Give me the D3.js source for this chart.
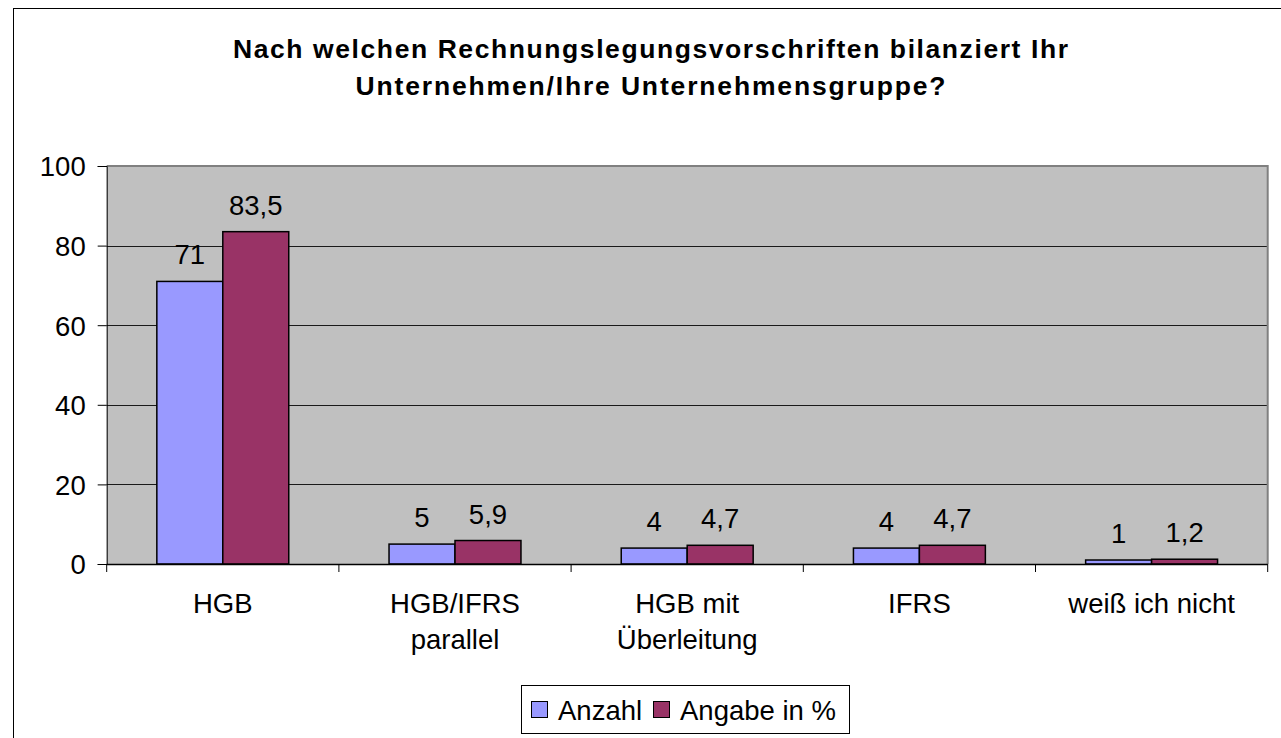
<!DOCTYPE html>
<html lang="de">
<head>
  <meta charset="UTF-8">
  <title>Rechnungslegungsvorschriften</title>
  <style>
    body { margin: 0; background: #fff; }
    text { font-family: "Liberation Sans", Arial, sans-serif; fill: #000; }
  </style>
</head>
<body>
  <svg id="chart" width="1281" height="738"></svg>
<script src="https://cdn.jsdelivr.net/npm/d3@7"></script>
<script>
  // data
  let categories = [["HGB"], ["HGB/IFRS", "parallel"], ["HGB mit", "Überleitung"], ["IFRS"], ["weiß ich nicht"]]
  let seriesNames = ["Anzahl", "Angabe in %"]
  let anzahl = [71, 5, 4, 4, 1]
  let angabe = [83.5, 5.9, 4.7, 4.7, 1.2]
  let yTicks = [0, 20, 40, 60, 80, 100]
  let colors = ["#9999FF", "#993366"]

  let svg = d3.select("#chart")
  let plotLeft = 106.7, plotRight = 1267.7, plotTop = 166, plotBottom = 564
  let fs = 27.5

  // outer chart frame
  svg.append("rect")
     .attr("x", 13.5).attr("y", 8.5)
     .attr("width", 1400).attr("height", 900)
     .attr("fill", "none").attr("stroke", "#000")

  // title
  let title = ["Nach welchen Rechnungslegungsvorschriften bilanziert Ihr", "Unternehmen/Ihre Unternehmensgruppe?"]
  let titleWidths = [835, 590]
  svg.append("g").selectAll("text")
     .data(title)
     .enter()
     .append("text")
     .attr("x", 650.5)
     .attr("y", (d, i) => 58 + i * 37)
     .attr("text-anchor", "middle")
     .attr("font-weight", "bold")
     .attr("font-size", 26.5)
     .attr("textLength", (d, i) => titleWidths[i])
     .attr("lengthAdjust", "spacing")
     .text(d => d)

  let idx = categories.map((d, i) => i)
  let x = d3.scaleBand().domain(idx).range([plotLeft, plotRight]).paddingInner(0).paddingOuter(0)
  let xSub = d3.scaleBand().domain([0, 1]).range([0, x.bandwidth()]).paddingInner(0).paddingOuter(0.76)
  let y = d3.scaleLinear().domain([0, 100]).range([plotBottom, plotTop])

  // plot background
  svg.append("rect")
     .attr("x", plotLeft).attr("y", plotTop)
     .attr("width", plotRight - plotLeft).attr("height", plotBottom - plotTop)
     .attr("fill", "#C0C0C0")

  // gridlines
  svg.append("g").selectAll("line")
     .data(yTicks.filter(t => t > 0 && t < 100))
     .enter()
     .append("line")
     .attr("x1", plotLeft).attr("x2", plotRight)
     .attr("y1", d => Math.round(y(d)) + 0.5).attr("y2", d => Math.round(y(d)) + 0.5)
     .attr("stroke", "#1a1a1a")

  // plot border top/right
  svg.append("path")
     .attr("d", `M${plotLeft},${plotTop} H${plotRight} V${plotBottom}`)
     .attr("fill", "none").attr("stroke", "#808080").attr("stroke-width", 2)

  // bars
  let series = [anzahl, angabe]
  series.forEach((vals, s) => {
    svg.append("g").selectAll("rect")
       .data(vals)
       .enter()
       .append("rect")
       .attr("x", (d, i) => x(i) + xSub(s))
       .attr("y", d => y(d))
       .attr("width", xSub.bandwidth())
       .attr("height", d => y(0) - y(d))
       .attr("fill", colors[s])
       .attr("stroke", "#000")
       .attr("stroke-width", 1.5)

    svg.append("g").selectAll("text")
       .data(vals)
       .enter()
       .append("text")
       .attr("x", (d, i) => x(i) + xSub(s) + xSub.bandwidth() / 2)
       .attr("y", d => y(d) - 17)
       .attr("text-anchor", "middle")
       .attr("font-size", fs)
       .text(d => String(d).replace(".", ","))
  })

  // y axis
  let yAxis = svg.append("g")
     .attr("transform", `translate(${plotLeft},0)`)
     .call(d3.axisLeft(y).tickValues(yTicks).tickSize(9).tickPadding(12))
  yAxis.select(".domain").attr("stroke", "#000")
  yAxis.selectAll(".tick text").attr("font-size", fs).attr("font-family", "Liberation Sans, Arial, sans-serif").attr("dy", "0.36em")

  // x axis with ticks at category boundaries
  svg.append("line")
     .attr("x1", plotLeft).attr("x2", plotRight)
     .attr("y1", plotBottom + 0.5).attr("y2", plotBottom + 0.5)
     .attr("stroke", "#000").attr("stroke-width", 1.5)
  let bounds = idx.map(i => x(i)).concat([plotRight])
  svg.append("g").selectAll("line")
     .data(bounds)
     .enter()
     .append("line")
     .attr("x1", d => d).attr("x2", d => d)
     .attr("y1", plotBottom).attr("y2", plotBottom + 8)
     .attr("stroke", "#000")

  let catLabels = svg.append("g").selectAll("text")
     .data(categories)
     .enter()
     .append("text")
     .attr("x", (d, i) => x(i) + x.bandwidth() / 2)
     .attr("y", 613)
     .attr("text-anchor", "middle")
     .attr("font-size", fs)
  catLabels.selectAll("tspan")
     .data(d => d)
     .enter()
     .append("tspan")
     .attr("x", function() { return this.parentNode.getAttribute("x") })
     .attr("dy", (d, i) => i === 0 ? 0 : 36)
     .text(d => d)

  // legend
  let legend = svg.append("g")
  legend.append("rect")
     .attr("x", 521.5).attr("y", 685.5)
     .attr("width", 328).attr("height", 48)
     .attr("fill", "#fff").attr("stroke", "#000")
  let legendX = [531, 653]
  seriesNames.forEach((name, s) => {
    legend.append("rect")
       .attr("x", legendX[s] + 0.5).attr("y", 701.5)
       .attr("width", 16).attr("height", 16)
       .attr("fill", colors[s]).attr("stroke", "#000")
    legend.append("text")
       .attr("x", legendX[s] + 27).attr("y", 720)
       .attr("font-size", fs)
       .text(name)
  })
</script>
</body>
</html>
